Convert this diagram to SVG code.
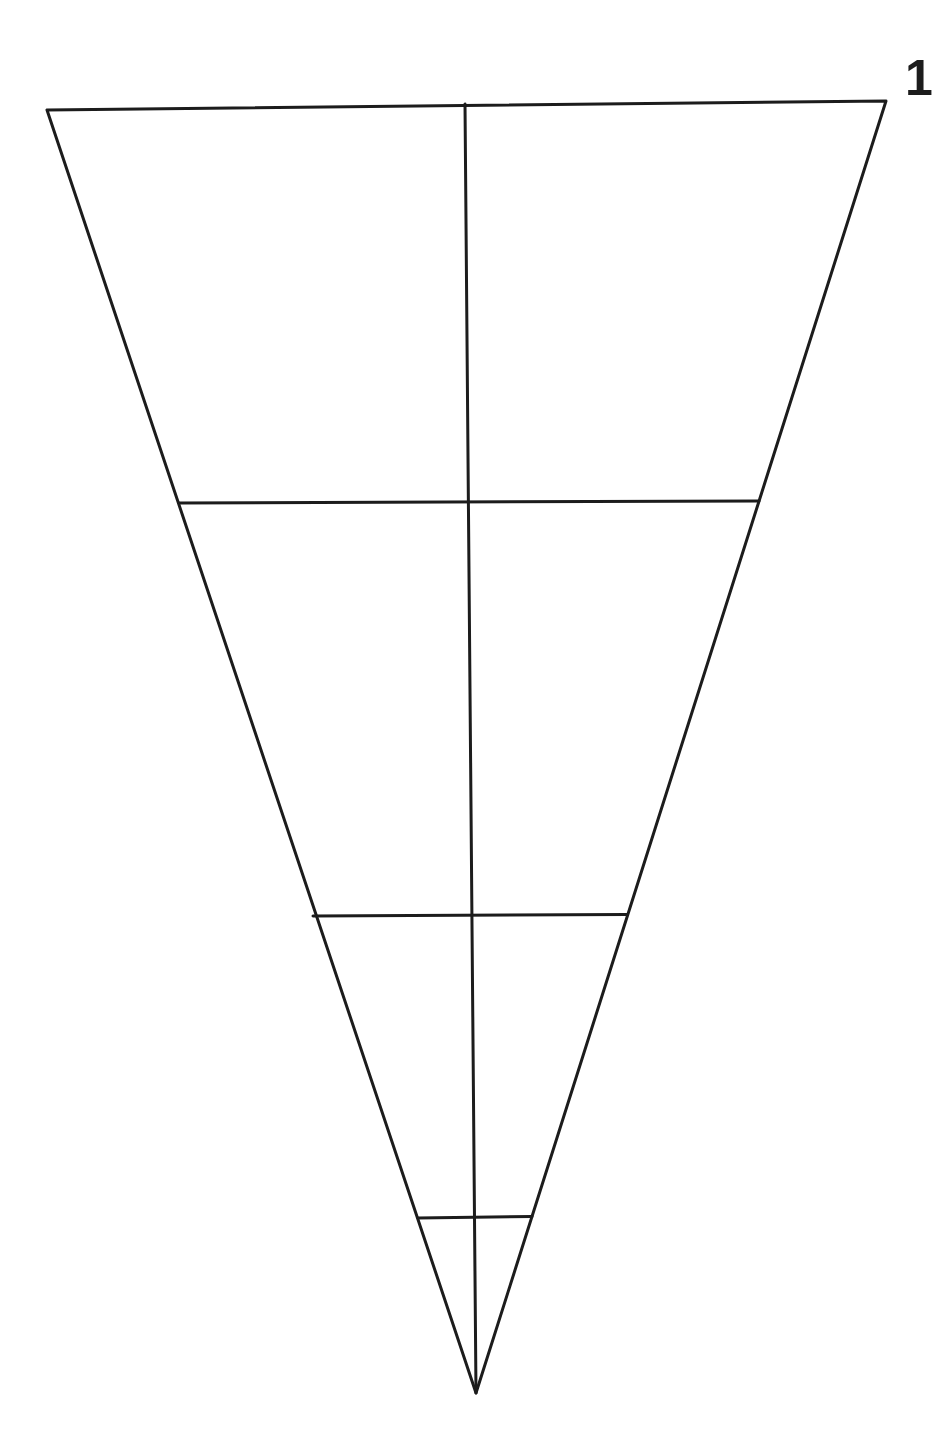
<svg xmlns="http://www.w3.org/2000/svg" width="937" height="1452" viewBox="0 0 937 1452">
<style>
.ln{stroke:#1c1c1c;stroke-width:3;fill:none;stroke-linecap:round;stroke-linejoin:round}
.lbl{font-family:"Liberation Sans",Arial,sans-serif;font-weight:bold;font-size:50px;fill:#1c1c1c}
</style>
<rect width="937" height="1452" fill="#ffffff"/>
<g id="outline">
<polygon class="ln" points="47,110 886,101 476,1393"/>
</g>
<g id="connectors">
<line class="ln" x1="465" y1="104" x2="476" y2="1393"/>
<line class="ln" x1="179" y1="503" x2="759" y2="501"/>
<line class="ln" x1="313" y1="916" x2="627" y2="914.5"/>
<line class="ln" x1="418" y1="1218" x2="532" y2="1216.5"/>
</g>
<g id="label">
<text class="lbl" x="919" y="95" text-anchor="middle">1</text>
</g>
</svg>
